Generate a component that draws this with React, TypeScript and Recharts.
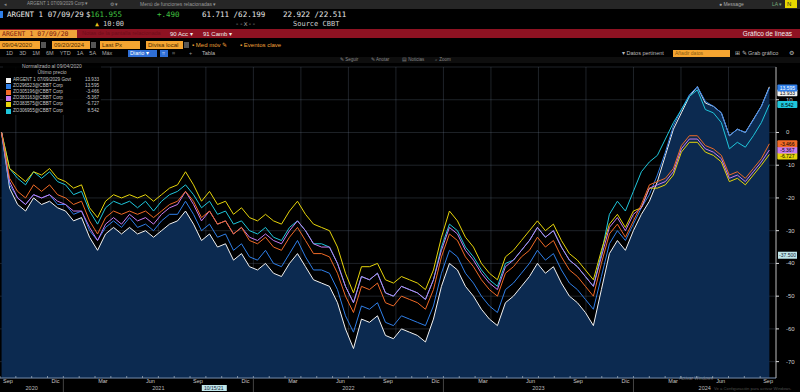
import React from 'react'
import {
  ComposedChart,
  Area,
  Line,
  XAxis,
  YAxis,
  CartesianGrid,
  LabelList,
  ReferenceLine,
} from 'recharts'

// time axis: months after 1 Sep 2020, roughly half-month samples from 09/04/2020 to 09/20/2024
const T_START = 0.1
const T_STEP = 0.505
const X_DOMAIN: [number, number] = [0, 49]

// normalised % change vs 09/04/2020
const ARGENT29 = [
  0, -17, -22, -24, -20, -22, -21, -23, -24, -27,
  -26, -32, -36, -31, -29, -31, -29, -31, -30, -32,
  -30, -28, -27, -24, -28, -33, -31, -35, -34, -39,
  -37, -41, -42, -40, -43, -44, -40, -37, -41, -45,
  -46, -47, -52, -60, -66, -57, -58, -56, -62, -63,
  -60, -61, -62, -64, -57, -47, -40, -42, -47, -50,
  -54, -57, -59, -52, -50, -47, -44, -40, -43, -41,
  -46, -50, -52, -55, -59, -48, -37, -33, -36, -30,
  -25, -21, -15, -7, 1, 6, 11, 14, 9, 8,
  6, -1, 1, 0, 4, 8, 13.933,
]
const BLUE29 = [
  0, -16, -20, -22, -19, -20, -19, -22, -22, -25,
  -24, -30, -33, -29, -27, -29, -26, -29, -28, -30,
  -27, -25, -25, -21, -25, -30, -28, -32, -31, -36,
  -34, -38, -39, -36, -40, -41, -37, -33, -38, -42,
  -42, -43, -48, -56, -61, -53, -54, -52, -58, -59,
  -56, -57, -58, -59, -53, -43, -36, -38, -43, -46,
  -50, -53, -55, -48, -46, -43, -40, -36, -39, -37,
  -42, -46, -48, -51, -54, -44, -34, -30, -33, -28,
  -23, -19, -13, -6, 2, 7, 11.5, 14, 9.5, 8,
  6, -1, 1, 0, 3.8, 8, 13.595,
]
const ORANGE35 = [
  0, -14, -18, -20, -16, -18, -16, -19, -20, -22,
  -21, -27, -31, -26, -24, -25, -24, -25, -24, -26,
  -24, -22, -21, -18, -21, -26, -24, -28, -27, -31,
  -29, -33, -34, -32, -35, -36, -32, -29, -33, -37,
  -37, -38, -43, -50, -55, -47, -48, -46, -52, -53,
  -50, -51, -52, -54, -48, -38, -31, -33, -38, -41,
  -45, -48, -50, -43, -41, -38, -36, -32, -35, -33,
  -38, -42, -44, -47, -50, -40, -31, -28, -32, -27,
  -22, -16, -15, -14, -11, -4, -1, -1, -4, -5,
  -7, -13, -12, -14, -11, -8, -3.466,
]
const PURPLE38 = [
  0, -15, -20, -22, -19, -20, -19, -21, -22, -24,
  -24, -29, -33, -28, -26, -28, -25, -27, -26, -28,
  -25, -23, -22, -18, -22, -27, -24, -28, -27, -31,
  -29, -32, -33, -31, -33, -34, -30, -27, -30, -34,
  -35, -35, -40, -47, -52, -44, -45, -43, -49, -50,
  -47, -48, -49, -51, -45, -36, -29, -31, -36, -39,
  -43, -46, -48, -41, -39, -36, -33, -29, -32, -30,
  -35, -39, -41, -44, -47, -38, -29, -26, -30, -25,
  -23, -17, -16, -15, -12, -5, -2, -2, -5, -6,
  -8, -14, -13, -15, -12, -9, -5.367,
]
const YELLOW41 = [
  0, -11, -13, -15, -12, -13, -11, -14, -15, -17,
  -16, -23, -26, -21, -19, -20, -19, -20, -19, -21,
  -19, -17, -16, -12, -16, -21, -18, -22, -21, -25,
  -23, -26, -27, -25, -27, -28, -24, -21, -25, -28,
  -29, -30, -35, -43, -49, -41, -41, -40, -45, -46,
  -44, -45, -46, -48, -42, -32, -24, -27, -32, -35,
  -40, -43, -45, -38, -36, -33, -30, -27, -30, -28,
  -33, -37, -39, -42, -45, -36, -28, -25, -29, -24,
  -23, -17, -17, -16, -13, -6, -3, -3, -6, -7,
  -9, -15, -14, -16, -13, -10, -6.727,
]
const CYAN30 = [
  0, -11, -14, -16, -12, -14, -12, -15, -16, -19,
  -18, -24, -28, -23, -21, -22, -21, -23, -21, -24,
  -21, -19, -18, -16, -19, -23, -21, -25, -24, -28,
  -27, -30, -31, -29, -32, -33, -29, -27, -30, -34,
  -34, -35, -40, -47, -52, -44, -45, -43, -49, -50,
  -47, -48, -49, -51, -45, -35, -28, -30, -35, -38,
  -42, -45, -47, -40, -39, -36, -33, -29, -32, -30,
  -35, -39, -41, -44, -47, -37, -25, -21, -24, -18,
  -12, -9, -7, -2, 3, 7, 11, 13, 7, 6,
  3, -5, -3, -4.5, -1, 3, 8.542,
]

const Y_TICKS = [-70, -60, -50, -40, -30, -20, -10, 0, 10]
const MONTH_LABEL_T = [0.5, 3.5, 6.5, 9.5, 12.5, 15.5, 18.5, 21.5, 24.5, 27.5, 30.5, 33.5, 36.5, 39.5, 42.5, 45.5, 48.5]
const MONTH_NAMES = ['Sep', 'Dic', 'Mar', 'Jun']
const MINOR_T = Array.from({ length: 49 }, (_, i) => i)
const GRID_T = [1, 4, 7, 10, 13, 16, 19, 22, 25, 28, 31, 34, 37, 40, 43, 46]
const YEAR_LABELS = ['2020', '2021', '2022', '2023', '2024']
const YEAR_LABEL_T = [2, 10, 22, 34, 44.5]
const YEAR_SPLIT_T = [4, 16, 28, 40]
const CURSOR_VALUE = -37.5
const CURSOR_TEXT = '-37.500'
const CURSOR_T = 13.5
const CURSOR_DATE = '10/15/21'

const SERIES = [
  { key: 'w', name: 'ARGENT 1 07/09/2029 Govt', last: '13.933', color: '#f2f2f2', text: '#000', shift: 6, values: ARGENT29 },
  { key: 'b', name: 'ZO296523@CBBT Corp', last: '13.595', color: '#2f7fe8', text: '#fff', shift: 0, values: BLUE29 },
  { key: 'o', name: 'ZO305196@CBBT Corp', last: '-3.466', color: '#f06a26', text: '#000', shift: 0, values: ORANGE35 },
  { key: 'p', name: 'ZO383163@CBBT Corp', last: '-5.367', color: '#c77cf2', text: '#000', shift: 0, values: PURPLE38 },
  { key: 'y', name: 'ZO383575@CBBT Corp', last: '-6.727', color: '#e6d40a', text: '#000', shift: 1.5, values: YELLOW41 },
  { key: 'c', name: 'ZO306955@CBBT Corp', last: '8.542', color: '#1fc6db', text: '#000', shift: 0, values: CYAN30 },
]

const data = ARGENT29.map((_, i) => {
  const row: Record<string, number> = { t: T_START + i * T_STEP }
  SERIES.forEach((s) => (row[s.key] = s.values[i]))
  return row
})
const LAST = data.length - 1

const FONT = '"Liberation Sans", Arial, sans-serif'
const MONO = '"DejaVu Sans Mono", "Liberation Mono", monospace'

function Txt({ x, y, children, color = '#bbb', size = 6, font = FONT, style = {} }: any) {
  return (
    <span
      style={{
        position: 'absolute', left: x, top: y, color, fontSize: size, lineHeight: 1,
        fontFamily: font, whiteSpace: 'nowrap', ...style,
      }}
    >
      {children}
    </span>
  )
}

function Box({ x, y, w, h, bg, children, color = '#4a2a00', size = 6 }: any) {
  return (
    <div
      style={{
        position: 'absolute', left: x, top: y, width: w, height: h, background: bg,
        color, fontSize: size, lineHeight: `${h}px`, paddingLeft: 2, boxSizing: 'border-box',
        fontFamily: FONT, whiteSpace: 'nowrap', overflow: 'hidden',
      }}
    >
      {children}
    </div>
  )
}

const MonthTick = ({ x, y, payload }: any) => {
  const v = payload.value
  if (Number.isInteger(v)) {
    return <line x1={x} x2={x} y1={y - 2} y2={y} stroke="#9aa8b8" strokeWidth={0.8} />
  }
  const idx = Math.round((v - 0.5) / 3) % 4
  return (
    <text x={x} y={y + 5} textAnchor="middle" fontSize={5.5} fill="#c8c8c8" fontFamily={FONT}>
      {MONTH_NAMES[idx]}
    </text>
  )
}

const YearTick = ({ x, y, payload }: any) => {
  const i = YEAR_LABEL_T.indexOf(payload.value)
  if (i < 0) return <line x1={x} x2={x} y1={y - 6} y2={y + 7} stroke="#555" strokeWidth={0.8} />
  return (
    <text x={x} y={y + 5} textAnchor="middle" fontSize={5.5} fill="#bdbdbd" fontFamily={FONT}>
      {YEAR_LABELS[i]}
    </text>
  )
}

const PriceTick = ({ x, y, payload }: any) => (
  <text x={x + 5} y={y + 2} fontSize={6} fill="#d0d0d0" fontFamily={FONT}>
    {payload.value}
  </text>
)

function badge(s: (typeof SERIES)[number]) {
  return (props: any) => {
    if (props.index !== LAST) return null
    const x = Number(props.x) + 8
    const y = Number(props.y) + s.shift
    return (
      <g>
        <rect x={x} y={y - 3.5} width={20} height={7} rx={1} fill={s.color} />
        <text x={x + 10} y={y + 2} textAnchor="middle" fontSize={5} fill={s.text} fontFamily={FONT}>
          {s.last}
        </text>
      </g>
    )
  }
}

const CursorBadge = ({ viewBox }: any) => (
  <g>
    <rect x={viewBox.x + viewBox.width + 2} y={viewBox.y - 3.5} width={19} height={7} fill="#bfe6ea" />
    <text x={viewBox.x + viewBox.width + 11.5} y={viewBox.y + 2} textAnchor="middle" fontSize={5} fill="#123" fontFamily={FONT}>
      {CURSOR_TEXT}
    </text>
  </g>
)

const DateBadge = ({ viewBox }: any) => (
  <g>
    <rect x={viewBox.x - 12} y={viewBox.y + viewBox.height + 7} width={25} height={6} fill="#bfe6ea" />
    <text x={viewBox.x} y={viewBox.y + viewBox.height + 12} textAnchor="middle" fontSize={5} fill="#123" fontFamily={FONT}>
      {CURSOR_DATE}
    </text>
  </g>
)

function Header() {
  return (
    <>
      <div style={{ position: 'absolute', left: 0, top: 0, width: 800, height: 9, background: '#262626' }} />
      <Txt x={4} y={2} size={5} color="#888">◂</Txt>
      <Txt x={27} y={2} size={4.5} color="#9a9a9a">ARGENT 1 07/09/2029 Corp ▾</Txt>
      <Txt x={110} y={2} size={5} color="#9a9a9a">⚙ ▾</Txt>
      <Txt x={140} y={2} size={5} color="#9a9a9a">Menú de funciones relacionadas ▾</Txt>
      <Txt x={719} y={2} size={5} color="#aaa">● Message</Txt>
      <Txt x={772} y={2} size={5} color="#7a7">LA ▾</Txt>
      <Box x={785} y={0} w={12} h={8} bg="#e8d800" color="#222" size={6}>N</Box>

      <div style={{ position: 'absolute', left: 0, top: 11, width: 3, height: 7, background: '#2f7fe8' }} />
      <Txt x={7} y={11} size={7.5} font={MONO} color="#e8e8e8">ARGENT 1 07/09/29</Txt>
      <Txt x={86} y={11} size={7.5} font={MONO} color="#e8e8e8">$<span style={{ color: '#41c441' }}>161.955</span></Txt>
      <Txt x={157} y={11} size={7.5} font={MONO} color="#41c441">+.490</Txt>
      <Txt x={202} y={11} size={7.5} font={MONO} color="#e8e8e8">61.711 /62.199</Txt>
      <Txt x={283} y={11} size={7.5} font={MONO} color="#e8e8e8">22.922 /22.511</Txt>
      <Txt x={95} y={21} size={6.5} font={MONO} color="#e8c21a">▲</Txt>
      <Txt x={103} y={21} size={7} font={MONO} color="#cfcfcf">10:00</Txt>
      <Txt x={235} y={21} size={7} font={MONO} color="#9a9a9a">--x--</Txt>
      <Txt x={293} y={21} size={7} font={MONO} color="#cfcfcf">Source CBBT</Txt>

      <div style={{ position: 'absolute', left: 0, top: 29, width: 800, height: 9, background: '#8e1222' }} />
      <Box x={0} y={30} w={77} h={8} bg="#f0a23a" color="#7a1a10" size={6.5}>
        <span style={{ fontFamily: MONO }}>ARGENT 1 07/09/20</span>
      </Box>
      <Txt x={82} y={31} size={5.5} color="#6e0d1a">Notas de la pantalla relacionada</Txt>
      <Txt x={170} y={31} size={6} color="#eee">90 Acc ▾</Txt>
      <Txt x={203} y={31} size={6} color="#eee">91 Camb ▾</Txt>
      <Txt x={0} y={31} size={6.5} color="#f0f0f0" style={{ left: 'auto', right: 8 }}>Gráfico de líneas</Txt>

      <Box x={0} y={41} w={40} h={8} bg="#f5a531">09/04/2020</Box>
      <Box x={41} y={42} w={5} h={6} bg="#555" />
      <Box x={52} y={41} w={38} h={8} bg="#f5a531">09/20/2024</Box>
      <Box x={91} y={42} w={5} h={6} bg="#555" />
      <Box x={100} y={41} w={40} h={8} bg="#f5a531">Last Px</Box>
      <Box x={146} y={41} w={37} h={8} bg="#f5a531">Divisa local</Box>
      <Box x={184} y={42} w={5} h={6} bg="#555" />
      <Txt x={192} y={42} size={6} color="#f0a23a">▪ Med móv ✎</Txt>
      <Txt x={240} y={42} size={6} color="#f0a23a">▪ Eventos clave</Txt>

      <Txt x={6} y={51} size={5.5} color="#aaa">
        1D &nbsp;&nbsp; 3D &nbsp;&nbsp; 1M &nbsp;&nbsp; 6M &nbsp;&nbsp; YTD &nbsp;&nbsp; 1A &nbsp;&nbsp; 5A &nbsp;&nbsp; Máx
      </Txt>
      <Box x={128} y={50} w={29} h={7} bg="#2f6fd6" color="#fff" size={5.5}>Diario ▾</Box>
      <Box x={160} y={50} w={8} h={7} bg="#2f6fd6" color="#fff" size={5}>⌗</Box>
      <Txt x={172} y={51} size={5.5} color="#999">⌗</Txt>
      <Txt x={189} y={51} size={5.5} color="#999">+</Txt>
      <Txt x={202} y={51} size={5.5} color="#bbb">Tabla</Txt>
      <Txt x={622} y={51} size={5.5} color="#bbb">▾ Datos pertinent</Txt>
      <Box x={673} y={50} w={57} h={7} bg="#f5a531" color="#8a5a10" size={5}>Añadir datos</Box>
      <Txt x={735} y={51} size={5.5} color="#bbb">⊞ ✎ Grab gráfico</Txt>
      <Txt x={789} y={51} size={5.5} color="#bbb">⚙</Txt>

      <div style={{ position: 'absolute', left: 0, top: 57, width: 800, height: 6, background: '#0e0e0e' }} />
      <Txt x={340} y={57.5} size={4.5} color="#888">✎ Seguir</Txt>
      <Txt x={371} y={57.5} size={4.5} color="#888">✎ Anotar</Txt>
      <Txt x={402} y={57.5} size={4.5} color="#888">▤ Noticias</Txt>
      <Txt x={435} y={57.5} size={4.5} color="#888">⌕ Zoom</Txt>
    </>
  )
}

function Legend() {
  return (
    <div
      style={{
        position: 'absolute', left: 3, top: 63, width: 98, height: 52,
        background: 'rgba(0,0,0,0.88)', fontFamily: FONT,
      }}
    >
      <Txt x={0} y={1} size={5} color="#bbb" style={{ width: 98, textAlign: 'center' }}>Normalizado al 09/04/2020</Txt>
      <Txt x={0} y={7} size={5} color="#bbb" style={{ width: 98, textAlign: 'center' }}>Último precio</Txt>
      {SERIES.map((s, i) => (
        <React.Fragment key={s.key}>
          <div style={{ position: 'absolute', left: 3, top: 14.5 + i * 6.2, width: 5, height: 5, background: s.color }} />
          <Txt x={10} y={14.5 + i * 6.2} size={4.6} color="#c8c8c8">{s.name}</Txt>
          <Txt x={0} y={14.5 + i * 6.2} size={4.6} color="#c8c8c8" style={{ width: 96, textAlign: 'right' }}>{s.last}</Txt>
        </React.Fragment>
      ))}
    </div>
  )
}

export default function App() {
  const drawOrder = ['w', 'b', 'c', 'y', 'p', 'o']
  return (
    <div
      style={{
        position: 'fixed', left: 0, top: 0, width: 800, height: 392, background: '#000',
        overflow: 'hidden', fontFamily: FONT,
      }}
    >
      <Header />
      <div style={{ position: 'absolute', left: 0, top: 63 }}>
        <ComposedChart width={800} height={329} data={data} margin={{ top: 4, right: 0, bottom: 0, left: 0 }}>
          <XAxis
            dataKey="t"
            type="number"
            domain={X_DOMAIN}
            ticks={[...MINOR_T, ...MONTH_LABEL_T]}
            interval={0}
            tick={<MonthTick />}
            tickLine={false}
            tickSize={0}
            tickMargin={0}
            height={7}
            axisLine={{ stroke: '#6f86a6' }}
          />
          <XAxis
            xAxisId="yr"
            dataKey="t"
            type="number"
            domain={X_DOMAIN}
            ticks={[...YEAR_LABEL_T, ...YEAR_SPLIT_T]}
            interval={0}
            tick={<YearTick />}
            tickLine={false}
            tickSize={0}
            tickMargin={0}
            height={7}
            axisLine={false}
          />
          <YAxis
            orientation="right"
            domain={[-75, 20]}
            ticks={Y_TICKS}
            interval={0}
            width={24}
            tick={<PriceTick />}
            tickSize={3}
            tickLine={{ stroke: '#ddd' }}
            axisLine={{ stroke: '#bbb' }}
          />
          <Area
            dataKey="w"
            stroke="none"
            fill="#0c2a50"
            fillOpacity={1}
            baseValue="dataMin"
            isAnimationActive={false}
          />
          <CartesianGrid
            stroke="#7d8ea6"
            strokeOpacity={0.3}
            strokeWidth={0.8}
            verticalCoordinatesGenerator={({ xAxis, offset }: any) =>
              GRID_T.map((t) =>
                xAxis && typeof xAxis.scale === 'function'
                  ? xAxis.scale(t)
                  : offset.left + ((t - X_DOMAIN[0]) / (X_DOMAIN[1] - X_DOMAIN[0])) * offset.width,
              )
            }
          />
          {drawOrder.map((k) => {
            const s = SERIES.find((q) => q.key === k)!
            return (
              <Line
                key={k}
                dataKey={k}
                stroke={s.color}
                strokeWidth={1}
                dot={false}
                isAnimationActive={false}
              >
                <LabelList dataKey={k} content={badge(s)} />
              </Line>
            )
          })}
          <ReferenceLine y={CURSOR_VALUE} stroke="transparent" label={<CursorBadge />} />
          <ReferenceLine x={CURSOR_T} stroke="transparent" label={<DateBadge />} />
        </ComposedChart>
      </div>
      <Legend />
      <Txt x={679} y={377} size={4.6} color="rgba(255,255,255,0.35)">Activar Windows</Txt>
      <Txt x={714} y={387} size={4.2} color="rgba(255,255,255,0.3)">Ve a Configuración para activar Windows.</Txt>
    </div>
  )
}
